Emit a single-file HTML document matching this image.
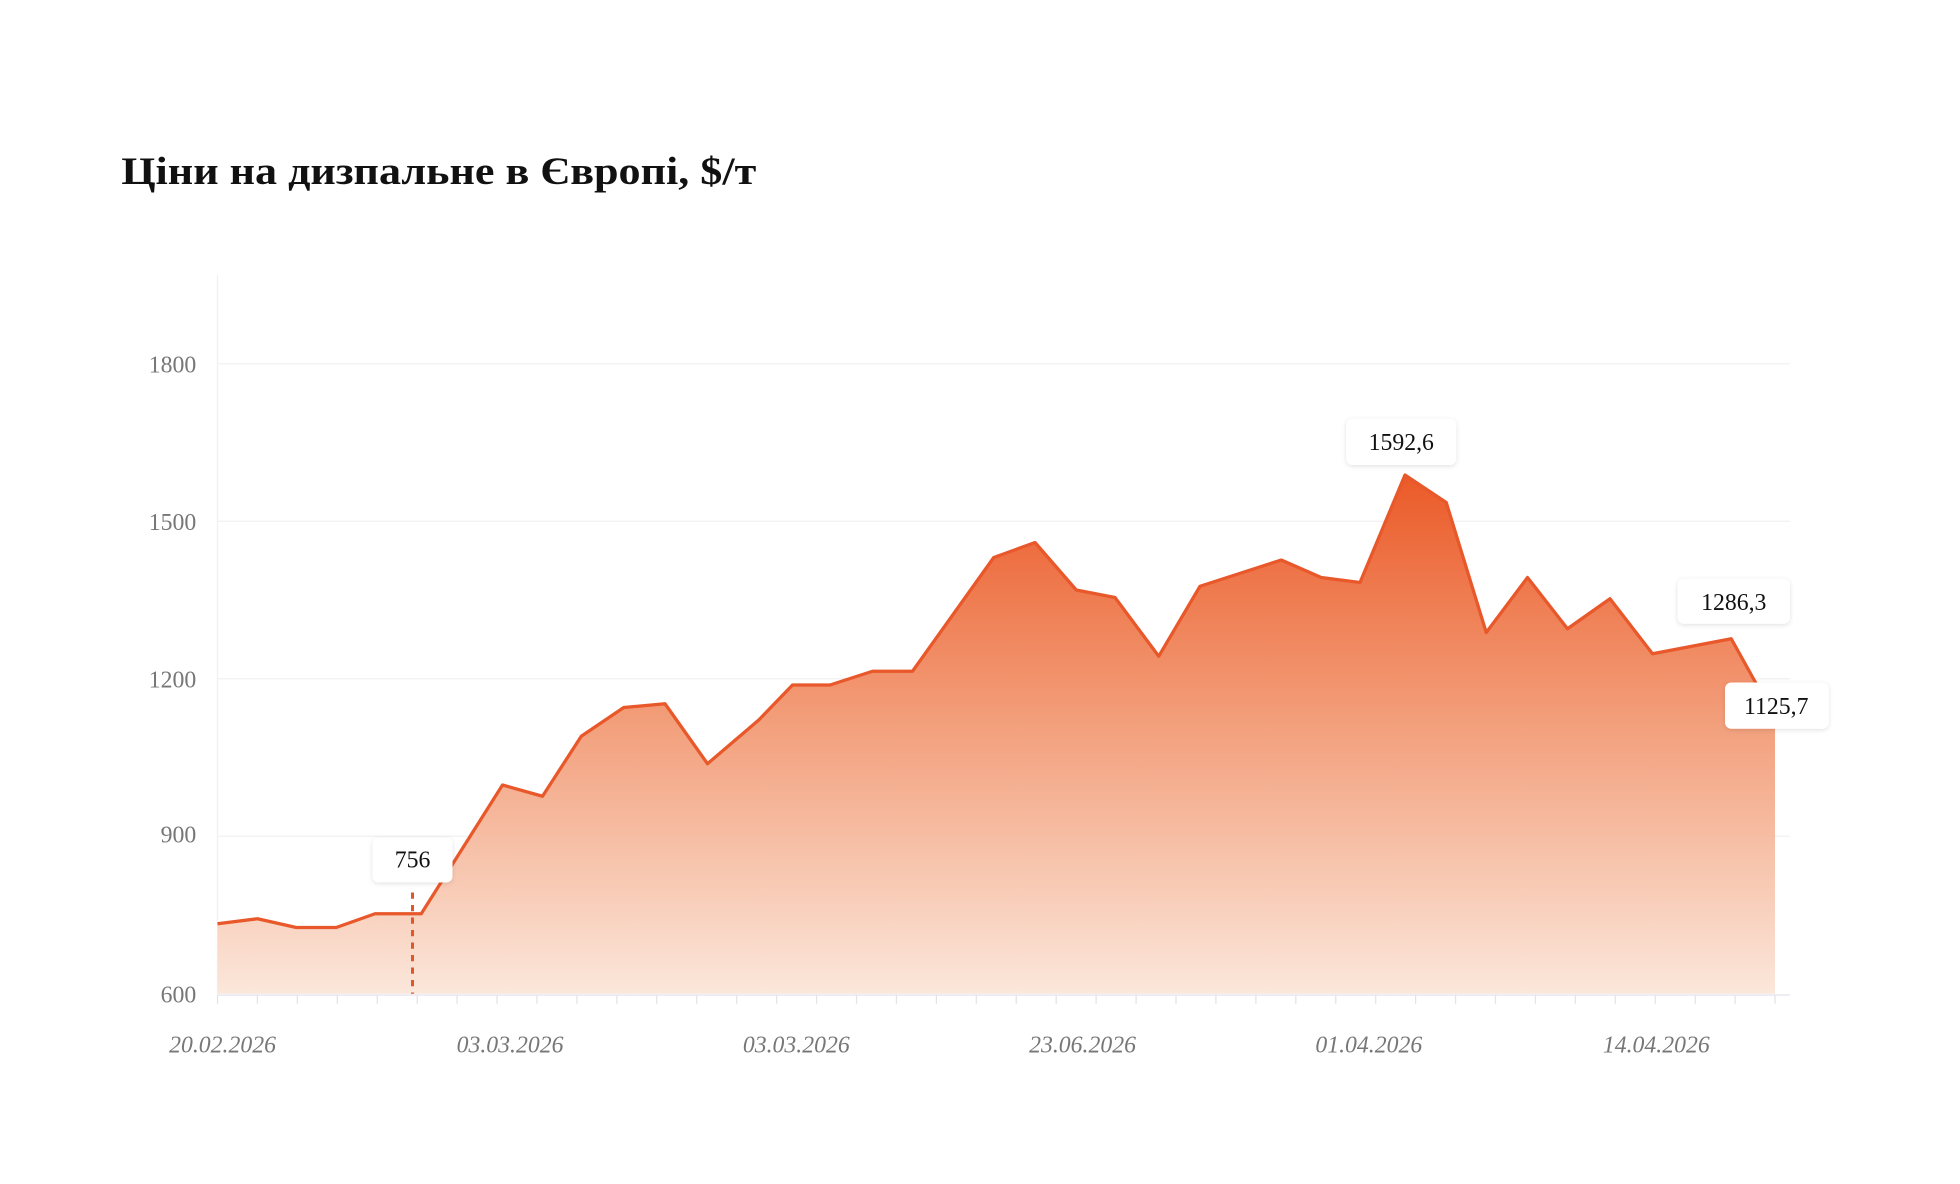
<!DOCTYPE html>
<html><head><meta charset="utf-8"><style>
html,body{margin:0;padding:0;background:#fff;}
svg{display:block;}
</style></head><body>
<svg width="1960" height="1184" viewBox="0 0 1568 947.2" xmlns="http://www.w3.org/2000/svg">
<defs>
<linearGradient id="g" x1="0" y1="380" x2="0" y2="795" gradientUnits="userSpaceOnUse">
<stop offset="0" stop-color="#eb5a28"/>
<stop offset="0.5" stop-color="#f3a27f"/>
<stop offset="1" stop-color="#fbe7db"/>
</linearGradient>
<filter id="sh" x="-20%" y="-30%" width="140%" height="170%"><feDropShadow dx="0" dy="1" stdDeviation="2" flood-color="#000" flood-opacity="0.12"/></filter>
</defs>
<text x="97" y="147" font-family="Liberation Serif, serif" font-weight="bold" font-size="31" fill="#111" textLength="508" lengthAdjust="spacingAndGlyphs">Ціни на дизпальне в Європі, $/т</text>
<g stroke="#f0f0f0" stroke-width="1">
<line x1="174" y1="291" x2="1432" y2="291"/>
<line x1="174" y1="417" x2="1432" y2="417"/>
<line x1="174" y1="543" x2="1432" y2="543"/>
<line x1="174" y1="669" x2="1432" y2="669"/>
<line x1="174" y1="220" x2="174" y2="795"/>
</g>
<g font-family="Liberation Serif, serif" font-size="19" fill="#777" text-anchor="end">
<text x="157" y="298">1800</text><text x="157" y="424">1500</text><text x="157" y="550">1200</text><text x="157" y="674">900</text><text x="157" y="802">600</text>
</g>
<path d="M174,739 L206,735 L237,742 L269,742 L300,731 L337,731 L402,628 L434,637 L465,589 L499,566 L532,563 L566,611 L607,576 L634,548 L664,548 L698,537 L730,537 L795,446 L828,434 L861,472 L892,478 L927,525 L960,469 L1025,448 L1057,462 L1088,466 L1124,380 L1157,402 L1189,506 L1222,462 L1254,503 L1288,479 L1322,523 L1385,511 L1420,574 L1420,795 L174,795 Z" fill="url(#g)"/>
<path d="M174,739 L206,735 L237,742 L269,742 L300,731 L337,731 L402,628 L434,637 L465,589 L499,566 L532,563 L566,611 L607,576 L634,548 L664,548 L698,537 L730,537 L795,446 L828,434 L861,472 L892,478 L927,525 L960,469 L1025,448 L1057,462 L1088,466 L1124,380 L1157,402 L1189,506 L1222,462 L1254,503 L1288,479 L1322,523 L1385,511 L1420,574" fill="none" stroke="#e8582a" stroke-width="2.6" stroke-linejoin="round"/>
<line x1="174" y1="796" x2="1432" y2="796" stroke="#ececf2" stroke-width="1.5"/>
<path stroke="#e2e2e8" stroke-width="1" fill="none" d="M174,796v7M205.95,796v7M237.9,796v7M269.85,796v7M301.8,796v7M333.75,796v7M365.7,796v7M397.65,796v7M429.6,796v7M461.55,796v7M493.5,796v7M525.45,796v7M557.4,796v7M589.35,796v7M621.3,796v7M653.25,796v7M685.2,796v7M717.15,796v7M749.1,796v7M781.05,796v7M813,796v7M844.95,796v7M876.9,796v7M908.85,796v7M940.8,796v7M972.75,796v7M1004.7,796v7M1036.65,796v7M1068.6,796v7M1100.55,796v7M1132.5,796v7M1164.45,796v7M1196.4,796v7M1228.35,796v7M1260.3,796v7M1292.25,796v7M1324.2,796v7M1356.15,796v7M1388.1,796v7M1420,796v7"/>
<line x1="330" y1="714" x2="330" y2="795" stroke="#e0582a" stroke-width="2.4" stroke-dasharray="5,5"/>
<g font-family="Liberation Serif, serif" font-style="italic" font-size="19" fill="#777" text-anchor="middle">
<text x="178" y="842">20.02.2026</text><text x="408" y="842">03.03.2026</text><text x="637" y="842">03.03.2026</text><text x="866" y="842">23.06.2026</text><text x="1095" y="842">01.04.2026</text><text x="1325" y="842">14.04.2026</text>
</g>
<g filter="url(#sh)" fill="#fff">
<rect x="298" y="670" width="64" height="36" rx="5"/>
<rect x="1077" y="335" width="88" height="37" rx="5"/>
<rect x="1342" y="463" width="90" height="36" rx="5"/>
<rect x="1380" y="546" width="83" height="37" rx="5"/>
</g>
<g font-family="Liberation Serif, serif" font-size="19" fill="#111" text-anchor="middle">
<text x="330" y="694">756</text><text x="1121" y="360">1592,6</text><text x="1387" y="488">1286,3</text><text x="1421" y="571">1125,7</text>
</g>
</svg>
</body></html>
